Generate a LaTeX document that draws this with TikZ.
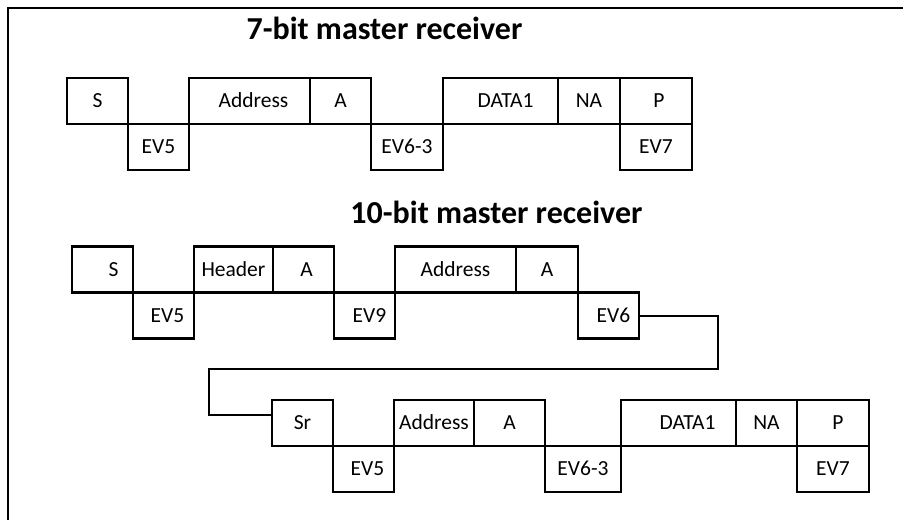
\documentclass[tikz,border=0pt]{standalone}
\usepackage{fontspec}
\setmainfont{Carlito}
\usetikzlibrary{%
	positioning,%
}
\tikzset{
	nodes={align=center},
}
\newcommand{\slotfont}{\fontsize{21.5pt}{25pt}\selectfont}
\newcommand{\titlefont}{\fontsize{32pt}{38pt}\selectfont\bfseries}

\begin{document}
\begin{tikzpicture}[x=1pt, y=-1pt,%
		slot/.style={draw, rectangle, line width=2.4pt, minimum height=46pt, inner sep=0pt, outer sep=0pt, text height=13.8pt, text depth=0pt, font=\slotfont},%
		heading/.style={anchor=base, inner sep=0pt, font=\titlefont}]
	\useasboundingbox (0,0) rectangle (911,520);
	\draw[line width=2.4pt] (8,520) -- (8,8) -- (903,8);

	% 7-bit
	\node[heading] (title7) at (384.5,39) {7-bit master receiver};
	\node[slot, minimum width=61pt, anchor=north west] (s1) at (67,78) {S};
	\node[slot, minimum width=61pt] (ev5a) [below right=0pt and 0pt of s1] {EV5};
	\node[slot, minimum width=121pt] (addr1) [above right=0pt and 0pt of ev5a] {\hspace*{8pt}Address};
	\node[slot, minimum width=61pt] (a1) [right=0pt of addr1] {A};
	\node[slot, minimum width=72pt] (ev63a) [below right=0pt and 0pt of a1] {EV6-3};
	\node[slot, minimum width=115pt] (data1) [above right=0pt and 0pt of ev63a] {\hspace*{10pt}DATA1};
	\node[slot, minimum width=62pt] (na1) [right=0pt of data1] {NA};
	\node[slot, minimum width=72pt] (p1) [right=0pt of na1] {\hspace*{6pt}P};
	\node[slot, minimum width=72pt] (ev7a) [below=0pt of p1] {EV7};

	% 10-bit
	\node[heading] (title10) at (496.5,223) {10-bit master receiver};
	\node[slot, minimum width=61pt, anchor=north west] (s2) at (72,246.5) {\hspace*{22pt}S};
	\node[slot, minimum width=61pt] (ev5b) [below right=0pt and 0pt of s2] {\hspace*{8pt}EV5};
	\node[slot, minimum width=79pt] (hdr) [above right=0pt and 0pt of ev5b] {Header};
	\node[slot, minimum width=61pt] (a2) [right=0pt of hdr] {\hspace*{6pt}A};
	\node[slot, minimum width=61pt] (ev9) [below right=0pt and 0pt of a2] {\hspace*{10pt}EV9};
	\node[slot, minimum width=121pt] (addr2) [above right=0pt and 0pt of ev9] {Address};
	\node[slot, minimum width=62pt] (a3) [right=0pt of addr2] {A};
	\node[slot, minimum width=61pt] (ev6) [below right=0pt and 0pt of a3] {\hspace*{10pt}EV6};

	\node[slot, minimum width=61pt, anchor=north west] (sr) at (272,400) {Sr};
	\node[slot, minimum width=61pt] (ev5c) [below right=0pt and 0pt of sr] {\hspace*{8pt}EV5};
	\node[slot, minimum width=80pt] (addr3) [above right=0pt and 0pt of ev5c] {Address};
	\node[slot, minimum width=71pt] (a4) [right=0pt of addr3] {A};
	\node[slot, minimum width=76pt] (ev63b) [below right=0pt and 0pt of a4] {EV6-3};
	\node[slot, minimum width=115pt] (data2) [above right=0pt and 0pt of ev63b] {\hspace*{18pt}DATA1};
	\node[slot, minimum width=61pt] (na2) [right=0pt of data2] {NA};
	\node[slot, minimum width=72pt] (p2) [right=0pt of na2] {\hspace*{10pt}P};
	\node[slot, minimum width=72pt] (ev7b) [below=0pt of p2] {EV7};

	\coordinate (wrapR) at (718,369);
	\coordinate (wrapL) at (209,369);
	\draw[line width=2pt] (ev6.east) -| (wrapR) -- (wrapL) |- ([yshift=8pt]sr.west);
\end{tikzpicture}
\end{document}
